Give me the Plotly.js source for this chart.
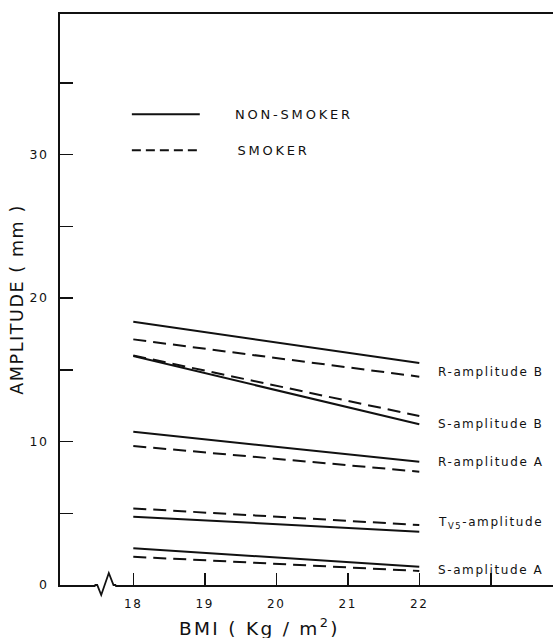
<!DOCTYPE html>
<html>
<head>
<meta charset="utf-8">
<script src="https://cdn.plot.ly/plotly-3.0.1.min.js"></script>
<style>
  html, body { margin: 0; padding: 0; background: #fff; }
  #chart { width: 553px; height: 638px; }
  svg text { letter-spacing: 1.6px; }
</style>
</head>
<body>
<div id="chart"></div>
<script>
// ---- data ----
const bmi = [18, 22];
const seriesNames = ["R-amplitude B", "S-amplitude B", "R-amplitude A", "TV5-amplitude", "S-amplitude A"];
const nonSmokerRB = [18.35, 15.47];
const nonSmokerSB = [15.96, 11.20];
const nonSmokerRA = [10.68, 8.59];
const nonSmokerTV5 = [4.76, 3.72];
const nonSmokerSA = [2.56, 1.28];
const smokerRB = [17.12, 14.52];
const smokerSB = [16.00, 11.78];
const smokerRA = [9.69, 7.90];
const smokerTV5 = [5.34, 4.18];
const smokerSA = [1.97, 0.98];
const xTickVals = [18, 19, 20, 21, 22, 23];
const xTickText = ["18", "19", "20", "21", "22", ""];
const yTickVals = [0, 5, 10, 15, 20, 25, 30, 35];
const yTickText = ["0", "", "10", "", "20", "", "30", ""];
const labelTexts = ["R-amplitude B", "S-amplitude B", "R-amplitude A", "T<sub>V5</sub>-amplitude", "S-amplitude A"];

const nonSmoker = [nonSmokerRB, nonSmokerSB, nonSmokerRA, nonSmokerTV5, nonSmokerSA];
const smoker = [smokerRB, smokerSB, smokerRA, smokerTV5, smokerSA];

const traces = [];
nonSmoker.forEach((v, i) => traces.push({
  x: bmi, y: v, type: "scatter", mode: "lines", name: "NON-SMOKER " + seriesNames[i],
  line: { color: "#111", width: 2 }, showlegend: false, hoverinfo: "skip"
}));
smoker.forEach((v, i) => traces.push({
  x: bmi, y: v, type: "scatter", mode: "lines", name: "SMOKER " + seriesNames[i],
  line: { color: "#111", width: 2, dash: "13px,7px" }, showlegend: false, hoverinfo: "skip"
}));

const font = { family: "DejaVu Sans, Liberation Sans, sans-serif", color: "#111" };
const labelY = [14.85, 11.2, 8.55, 4.3, 1.05];
const annotations = labelTexts.map((t, i) => ({
  x: 22.23, y: labelY[i], xref: "x", yref: "y", text: t, showarrow: false,
  xanchor: "left", yanchor: "middle", font: Object.assign({ size: 12 }, font)
}));
annotations.push({ x: 19.48, y: 32.82, xref: "x", yref: "y", text: "NON-SMOKER", showarrow: false,
  xanchor: "left", yanchor: "middle", font: Object.assign({ size: 13 }, font) });
annotations.push({ x: 19.48, y: 30.31, xref: "x", yref: "y", text: "SMOKER", showarrow: false,
  xanchor: "left", yanchor: "middle", font: Object.assign({ size: 13 }, font) });
// x-axis title placed like the reference (left of plot centre)
annotations.push({ x: 0.405, y: -0.074, xref: "paper", yref: "paper", text: "BMI ( Kg / m<sup>2</sup>)",
  showarrow: false, xanchor: "center", yanchor: "middle", font: Object.assign({ size: 18.5 }, font) });

const shapes = [
  { type: "line", xref: "x", yref: "y", x0: 17.98, x1: 18.93, y0: 32.82, y1: 32.82, line: { color: "#111", width: 2 } },
  { type: "line", xref: "x", yref: "y", x0: 17.98, x1: 18.93, y0: 30.31, y1: 30.31, line: { color: "#111", width: 2, dash: "9px,5px" } },
  // axis break
  { type: "rect", xref: "paper", yref: "paper", x0: 0.072, x1: 0.112, y0: -0.006, y1: 0.006,
    fillcolor: "#fff", line: { width: 0 }, layer: "above" },
  { type: "path", xref: "paper", yref: "paper", path: "M 0.070,0 L 0.0755,0 L 0.0836,-0.0175 L 0.0990,0.021 L 0.1085,0 L 0.114,0",
    line: { color: "#111", width: 1.8 }, layer: "above" }
];

const layout = {
  width: 553, height: 638,
  margin: { l: 60, r: 0, t: 14, b: 53 },
  paper_bgcolor: "#fff", plot_bgcolor: "#fff",
  showlegend: false,
  font: font,
  xaxis: {
    range: [16.975, 23.87], showgrid: false, zeroline: false,
    showline: true, mirror: true, linecolor: "#111", linewidth: 2,
    ticks: "inside", ticklen: 12, tickwidth: 1.5, tickcolor: "#111",
    tickvals: xTickVals, ticktext: xTickText, ticklabelstandoff: 7,
    tickfont: Object.assign({ size: 12 }, font)
  },
  yaxis: {
    range: [0, 39.8], showgrid: false, zeroline: false,
    showline: true, linecolor: "#111", linewidth: 2,
    ticks: "inside", ticklen: 13, tickwidth: 1.5, tickcolor: "#111",
    tickvals: yTickVals, ticktext: yTickText, ticklabelstandoff: 7,
    tickfont: Object.assign({ size: 12.5 }, font),
    title: { text: "AMPLITUDE ( mm )", font: Object.assign({ size: 17.5 }, font), standoff: 1 }
  },
  annotations: annotations,
  shapes: shapes
};

Plotly.newPlot("chart", traces, layout, { displayModeBar: false, staticPlot: true }).then(() => {
  document.querySelectorAll("#chart svg text").forEach(t => {
    if (/SMOKER/.test(t.textContent)) t.style.letterSpacing = "2.8px";
    if (/BMI/.test(t.textContent)) t.style.letterSpacing = "2.3px";
  });
});
</script>
</body>
</html>
